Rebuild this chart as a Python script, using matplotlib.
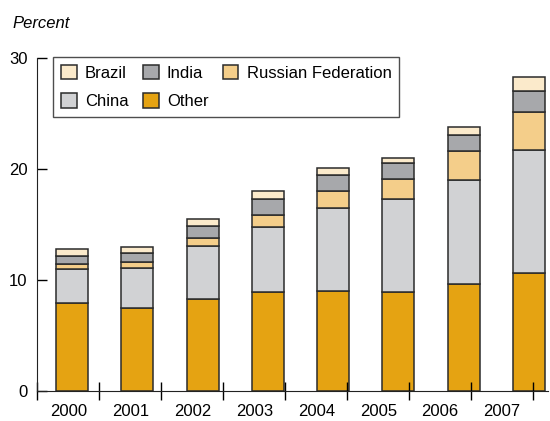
import matplotlib.pyplot as plt
import numpy as np

plt.rcParams['font.family'] = ['Liberation Sans', 'DejaVu Sans']

years = ['2000', '2001', '2002', '2003', '2004', '2005', '2006', '2007']
other = [7.9, 7.5, 8.3, 8.9, 9.0, 8.9, 9.6, 10.6]
china = [3.1, 3.6, 4.8, 5.9, 7.5, 8.4, 9.4, 11.1]
russia = [0.4, 0.5, 0.7, 1.1, 1.5, 1.8, 2.6, 3.4]
india = [0.8, 0.8, 1.1, 1.4, 1.5, 1.4, 1.5, 1.9]
brazil = [0.6, 0.6, 0.6, 0.7, 0.6, 0.5, 0.7, 1.3]

series = [
    ('Other', other, '#E5A312'),
    ('China', china, '#D1D2D4'),
    ('Russian Federation', russia, '#F4CE8A'),
    ('India', india, '#A7A8AB'),
    ('Brazil', brazil, '#FBEACB'),
]

fig = plt.figure(figsize=(5.5, 4.21), dpi=100)
ax = fig.add_axes([0.068, 0.0713, 0.928, 0.7909])

x = np.arange(len(years))
bottom = np.zeros(len(years))
bars = {}
for name, vals, col in series:
    bars[name] = ax.bar(x, vals, 0.49, bottom=bottom, color=col,
                        edgecolor='#2b2b2b', linewidth=1.1, label=name)
    bottom += np.array(vals)

# the category labels sit on a slightly tighter grid than the bars
step = 0.9495
left = -0.531
ax.set_xlim(left, 7.29)
ax.set_ylim(0, 30)

ax.set_xticks(left + step * np.arange(len(years) + 1))
ax.set_xticklabels([])
ax.set_xticks(left + step * (np.arange(len(years)) + 0.5), minor=True)
ax.set_xticklabels(years, minor=True, fontsize=12)
ax.tick_params(axis='x', which='major', direction='inout', length=13, width=1)
ax.tick_params(axis='x', which='minor', length=0, pad=9.5)

ax.set_yticks([0, 10, 20, 30])
ax.tick_params(axis='y', direction='in', length=7, width=1, labelsize=12, pad=7)

for s in ['top', 'right']:
    ax.spines[s].set_visible(False)
ax.spines['left'].set_color('#222222')
ax.spines['bottom'].set_color('#222222')

fig.text(0.022, 0.945, 'Percent', fontsize=12, style='italic', ha='left', va='center')

order = ['Brazil', 'China', 'India', 'Other', 'Russian Federation']
leg = ax.legend([bars[n] for n in order], order, ncol=3, loc='upper left',
                bbox_to_anchor=(0.031, 1.002), borderaxespad=0, fontsize=12,
                frameon=True, fancybox=False, edgecolor='#222222',
                handlelength=0.95, handleheight=0.95, columnspacing=0.85,
                handletextpad=0.5, borderpad=0.45, labelspacing=0.75)
leg.get_frame().set_linewidth(1.0)

fig.savefig('out.png', dpi=100)
